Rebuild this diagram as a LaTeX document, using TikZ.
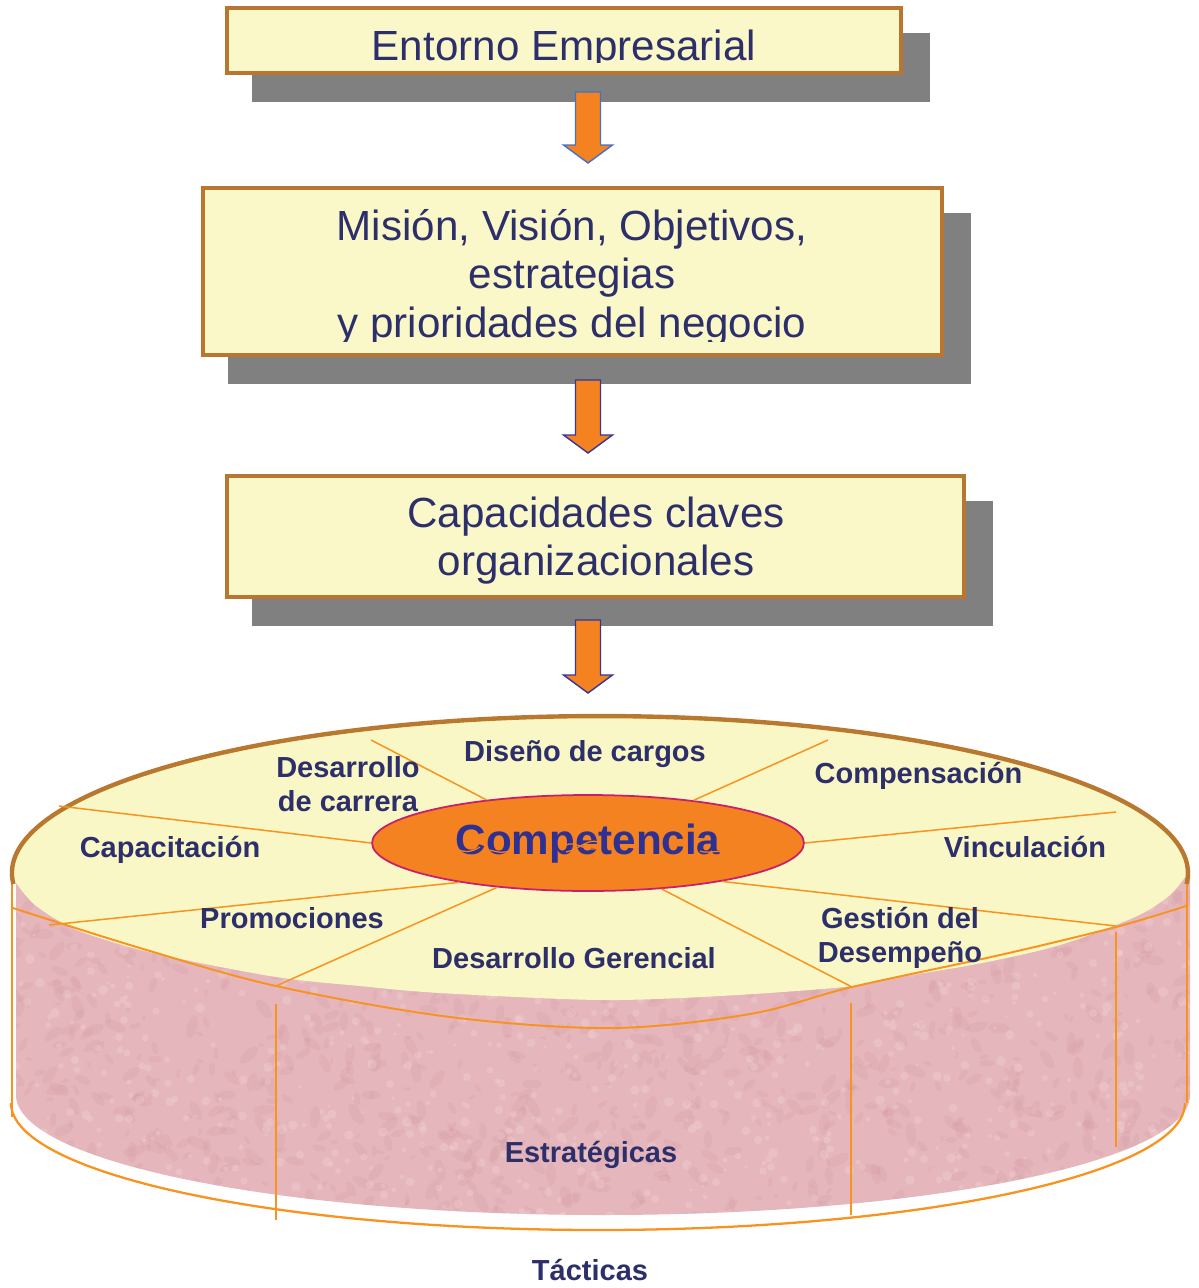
\documentclass[tikz,border=0pt]{standalone}
\usepackage{fontspec}
\setmainfont{Liberation Sans}
\usetikzlibrary{shapes.geometric}

\definecolor{boxfill}{HTML}{FAF7C8}
\definecolor{boxborder}{HTML}{B87630}
\definecolor{shadowgray}{HTML}{808080}
\definecolor{navy}{HTML}{2D2F6B}
\definecolor{compblue}{HTML}{2E3192}
\definecolor{comporange}{HTML}{F58220}
\definecolor{compborder}{HTML}{C81E6E}
\definecolor{spokeor}{HTML}{F7931E}
\definecolor{arrowor}{HTML}{F58220}
\definecolor{arrowblue}{HTML}{4472C4}
\definecolor{arrownavy}{HTML}{35359A}
\definecolor{topyellow}{HTML}{FAF7C6}
\definecolor{brownarc}{HTML}{B8782F}
\definecolor{pinkbase}{HTML}{E5B7BC}
\definecolor{pinkdark}{HTML}{C98A93}
\definecolor{pinklight}{HTML}{F4D6D8}

\begin{document}
\begin{tikzpicture}[x=0.02cm,y=-0.02cm,
  boxstyle/.style={draw=boxborder, line width=2.4pt, fill=boxfill, inner sep=0pt},
  shadowbox/.style={fill=shadowgray},
  boxtext/.style={font=\fontsize{24}{28}\selectfont, text=navy, anchor=base, inner sep=0pt},
  ringtext/.style={font=\fontsize{16.5}{19.5}\selectfont\bfseries, text=navy, anchor=base, inner sep=0pt},
  spoke/.style={draw=spokeor, line width=0.85pt},
  rimline/.style={draw=spokeor, line width=1.1pt},
  sideline/.style={draw=spokeor, line width=0.6pt},
  blockarrow/.style={fill=arrowor, line width=0.8pt, line join=miter},
  squiggle/.style={draw=comporange, line width=0.7pt},
]
\useasboundingbox (0,0) rectangle (1199,1288);

% ---------- drop shadows of the three boxes ----------
\fill[shadowbox] (252,33) rectangle (930,102);
\fill[shadowbox] (228,213) rectangle (971,384);
\fill[shadowbox] (252,501) rectangle (993,626);

% ---------- boxes ----------
\node[boxstyle, minimum width=13.48cm, minimum height=1.30cm] (box1) at (564,40.5) {};
\node[boxstyle, minimum width=14.78cm, minimum height=3.34cm] (box2) at (572.5,271.5) {};
\node[boxstyle, minimum width=14.74cm, minimum height=2.42cm] (box3) at (595.5,536.5) {};

\begin{scope}
  \clip (0,0) rectangle (1199,62);
  \node[boxtext] (t1) at (564,60) {Entorno Empresarial};
\end{scope}
\node[boxtext] (t2a) at (572,240) {Misión, Visión, Objetivos,};
\node[boxtext] (t2b) at (572,288.5) {estrategias};
\begin{scope}
  \clip (0,0) rectangle (1199,341);
  \node[boxtext] (t2c) at (572,337) {y prioridades del negocio};
\end{scope}
\node[boxtext] (t3a) at (596,527) {Capacidades claves};
\node[boxtext] (t3b) at (596,575) {organizacionales};

% ---------- block arrows ----------
\filldraw[blockarrow, draw=arrowblue]
  (575.5,92) -- (600.5,92) -- (600.5,145) -- (612.5,145) -- (588,163) -- (563.5,145) -- (575.5,145) -- cycle;
\filldraw[blockarrow, draw=arrownavy]
  (575.5,380) -- (600.5,380) -- (600.5,435) -- (612.5,435) -- (588,453) -- (563.5,435) -- (575.5,435) -- cycle;
\filldraw[blockarrow, draw=arrownavy]
  (575.5,620) -- (600.5,620) -- (600.5,675) -- (612.5,675) -- (588,693) -- (563.5,675) -- (575.5,675) -- cycle;

% ---------- cylinder side with mottled texture ----------
\pgfmathsetseed{4242}
\begin{scope}
  \clip (16,870) -- (16,1095) arc[start angle=180, end angle=0, x radius=587, y radius=120] -- (1190,870) -- cycle;
  \fill[pinkbase] (0,860) rectangle (1199,1240);
  \foreach \k in {1,...,1100}{
    \pgfmathsetmacro{\px}{random(0,1199)}
    \pgfmathsetmacro{\py}{random(860,1240)}
    \pgfmathsetmacro{\pr}{3+9*rnd}
    \pgfmathsetmacro{\pa}{random(0,180)}
    \fill[pinkdark, opacity=0.14, rotate around={\pa:(\px,\py)}] (\px,\py) ellipse[x radius=\pr, y radius=0.45*\pr];
  }
  \foreach \k in {1,...,900}{
    \pgfmathsetmacro{\px}{random(0,1199)}
    \pgfmathsetmacro{\py}{random(860,1240)}
    \pgfmathsetmacro{\pr}{1.5+3.5*rnd}
    \fill[pinklight, opacity=0.30] (\px,\py) circle[radius=\pr];
  }
\end{scope}

% bottom rim of the cylinder
\draw[rimline, line width=1.3pt] (11,1103) arc[start angle=180, end angle=0, x radius=587, y radius=127];

% ---------- top face ----------
\fill[topyellow] (12,873) arc[start angle=180, end angle=360, x radius=588, y radius=157]
  -- plot[smooth, tension=0.5] coordinates {(1188,873) (1170,895) (1135,917) (1060,945) (982,963)
     (900,977) (844,987) (720,996) (600,1000) (440,993) (360,986) (276,977) (153,953) (77,930)
     (35,905) (14,880)} -- cycle;

% vertical seams of the side
\draw[sideline] (12,867) -- (12,1117);
\draw[sideline] (276,1004) -- (276,1220);
\draw[sideline] (851,1003) -- (851,1215);
\draw[sideline] (1116,932) -- (1116,1147);
\draw[sideline] (1187,875) -- (1187,1103);

% front edge of the top face
\draw[rimline] plot[smooth, tension=0.55] coordinates {(13,908) (140,948) (276,986) (450,1017)
  (612,1028) (750,1014) (852,987) (1000,955) (1116,927) (1186,906)};

% back edge of the top face
\draw[brownarc, line width=2.5pt] (13.4,884) arc[start angle=176, end angle=364, x radius=588, y radius=157];

% ---------- central ellipse and spokes ----------
\node[ellipse, draw=compborder, fill=comporange, line width=1pt, inner sep=0pt,
      minimum width=8.64cm, minimum height=1.92cm] (comp) at (588,843) {};

\coordinate (e1) at (371,740);
\coordinate (e2) at (59,806);
\coordinate (e3) at (49,925);
\coordinate (e4) at (276,986);
\coordinate (e5) at (828,740);
\coordinate (e6) at (1116,812);
\coordinate (e7) at (1116,926);
\coordinate (e8) at (852,987);

\draw[spoke] (comp.157) -- (e1);
\draw[spoke] (comp.180) -- (e2);
\draw[spoke] (comp.197) -- (e3);
\draw[spoke] (comp.206) -- (e4);
\draw[spoke] (comp.22) -- (e5);
\draw[spoke] (comp.0) -- (e6);
\draw[spoke] (comp.344) -- (e7);
\draw[spoke] (comp.328) -- (e8);

\node[font=\fontsize{24}{28}\selectfont\bfseries, text=compblue, anchor=base, inner sep=0pt]
  (comptext) at (588,854) {Competencia};
\draw[squiggle] (457,849) .. controls (465,853) and (472,852) .. (480,847);
\draw[squiggle] (490,850) .. controls (500,853) and (505,853) .. (512,850);
\draw[squiggle] (566,845) .. controls (576,840) and (586,853) .. (598,848);
\draw[squiggle] (566,852) .. controls (578,850) and (588,838) .. (598,842);
\draw[squiggle] (700,851) .. controls (708,854) and (714,850) .. (722,852);

% ---------- labels on the top face ----------
\node[ringtext] (l1) at (585,761) {Diseño de cargos};
\node[ringtext] (l2a) at (348,777) {Desarrollo};
\node[ringtext] (l2b) at (348,811) {de carrera};
\node[ringtext] (l3) at (918.5,783) {Compensación};
\node[ringtext] (l4) at (170,857) {Capacitación};
\node[ringtext] (l5) at (1025,857) {Vinculación};
\node[ringtext] (l6) at (292,928) {Promociones};
\node[ringtext] (l7) at (574,968) {Desarrollo Gerencial};
\node[ringtext] (l8a) at (900,928) {Gestión del};
\node[ringtext] (l8b) at (900,962) {Desempeño};

% ---------- labels on and below the side ----------
\node[ringtext] (l9) at (591,1162) {Estratégicas};
\node[ringtext] (l10) at (590,1280) {Tácticas};
\end{tikzpicture}
\end{document}
